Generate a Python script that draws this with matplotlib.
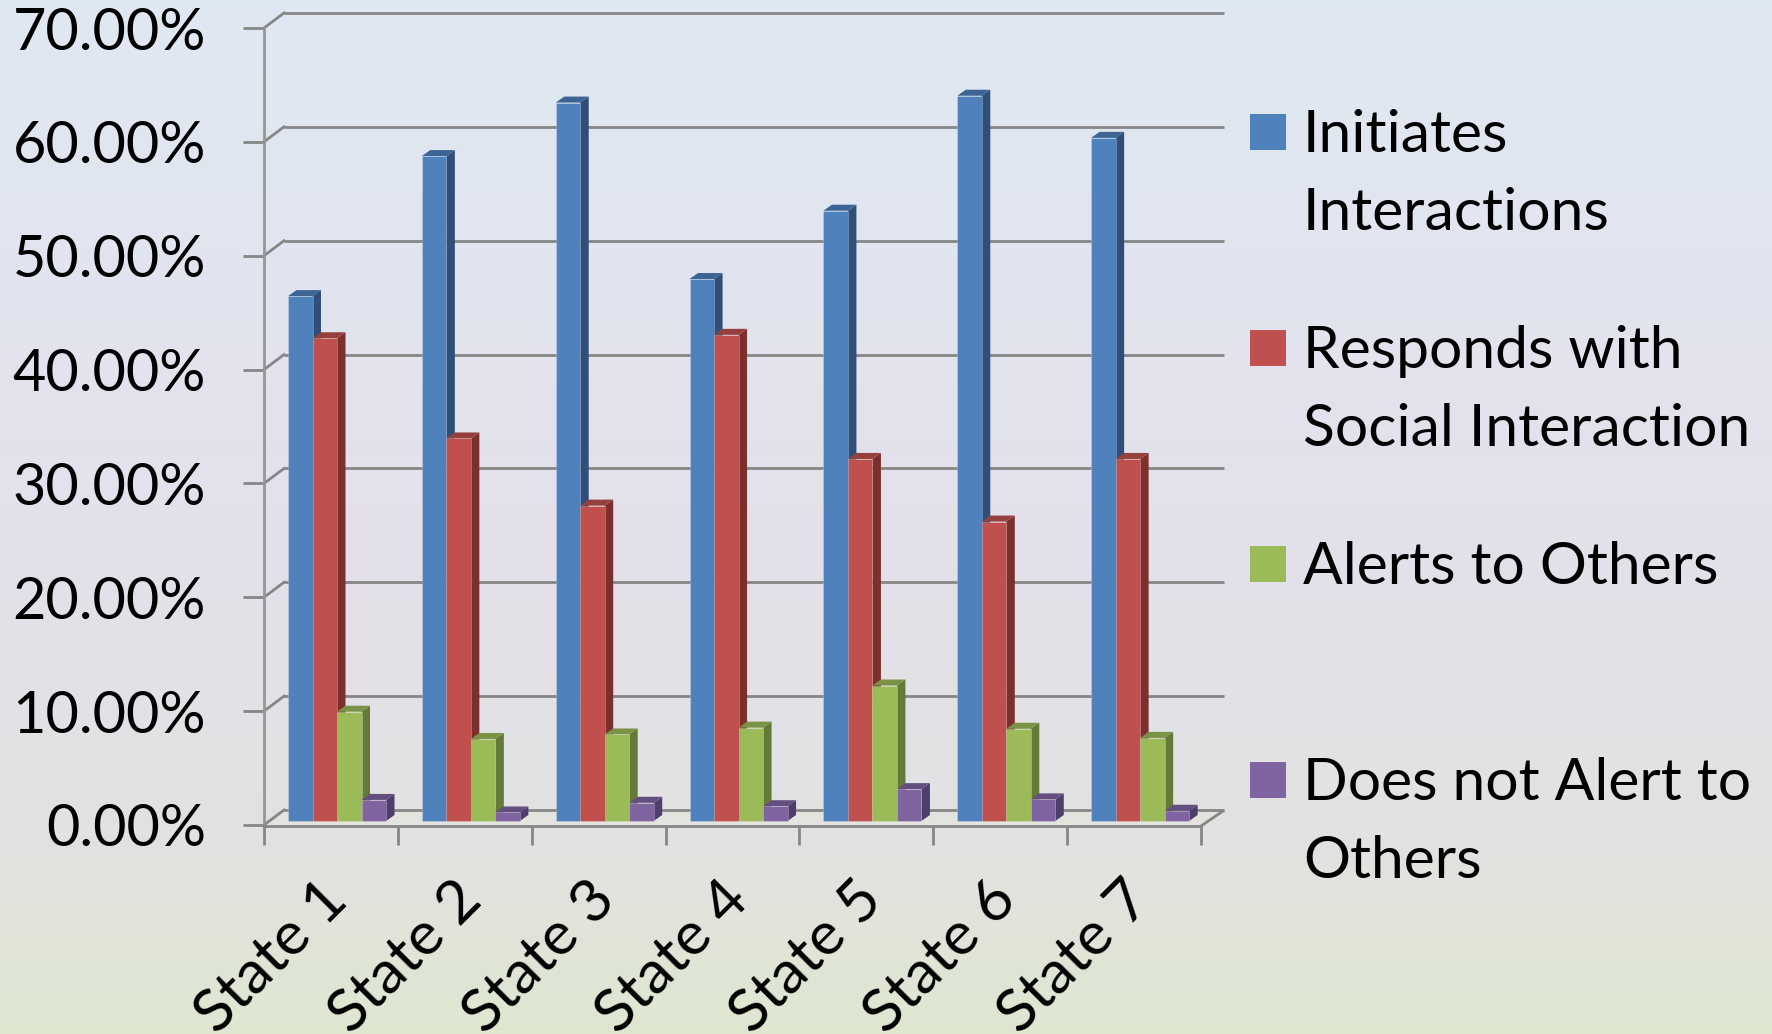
import numpy as np
import matplotlib
matplotlib.use('Agg')
import matplotlib.pyplot as plt
from matplotlib.colors import LinearSegmentedColormap
from matplotlib.transforms import offset_copy

states = ['State 1', 'State 2', 'State 3', 'State 4', 'State 5', 'State 6', 'State 7']
initiates = [46.1, 58.4, 63.1, 47.6, 53.6, 63.7, 60.0]
responds = [42.4, 33.6, 27.7, 42.7, 31.8, 26.3, 31.8]
alerts = [9.6, 7.2, 7.6, 8.2, 11.9, 8.1, 7.3]
no_alert = [1.85, 0.75, 1.6, 1.3, 2.8, 1.9, 0.9]
y_ticks = [0, 10, 20, 30, 40, 50, 60, 70]

series = [initiates, responds, alerts, no_alert]
# front, top and side colours for each series
front = ['#4f81bd', '#c0504d', '#9bbb59', '#8064a2']
top = ['#3c6494', '#96403d', '#7a9346', '#644e80']
side = ['#2f4f78', '#7c302e', '#647a38', '#4f3d6c']
legend_rows = [('Initiates\nInteractions', 132), ('Responds with\nSocial Interaction', 348),
               ('Alerts to Others', 564), ('Does not Alert to\nOthers', 780)]

W, H = 1772, 1034
x_px = 937 / 7      # pixels per state
y_px = 797 / 70     # pixels per percent
x0, y0 = 264, 825   # where the axes origin sits

plt.rcParams['font.family'] = ['Lato', 'DejaVu Sans']
fig = plt.figure(figsize=(W / 100, H / 100), dpi=100)

# background gradient
bg = fig.add_axes([0, 0, 1, 1], zorder=0)
cmap = LinearSegmentedColormap.from_list('bg', [(0, '#dfe9f3'), (0.55, '#e4e0ea'), (0.8, '#e2e2e2'), (1, '#dfe7d0')])
bg.imshow(np.linspace(0, 1, 256).reshape(-1, 1), cmap=cmap, aspect='auto', vmin=0, vmax=1)
bg.axis('off')

ax = fig.add_axes([0, 0, 1, 1], zorder=1)
ax.patch.set_alpha(0)
ax.set_xlim(-x0 / x_px, (W - x0) / x_px)
ax.set_ylim(-(H - y0) / y_px, y0 / y_px)
ax.axis('off')

grid_c = '#868686'
lw = 2.0
back = offset_copy(ax.transData, fig, x=20, y=15, units='dots')
mid = offset_copy(ax.transData, fig, x=0, y=4, units='dots')

# floor
ax.fill([0, 7, 7 + 22 / x_px, 22 / x_px], [0, 0, 15 / y_px, 15 / y_px], color='#e4e4de', zorder=1)

# back wall gridlines, side wall stubs and value ticks
for v in y_ticks:
    ax.plot([0, 7.02], [v, v], color=grid_c, lw=lw, transform=back, zorder=2, solid_capstyle='butt')
    ax.plot([0, 20 / x_px], [v, v + 15 / y_px], color=grid_c, lw=lw, zorder=2)
    ax.plot([-21 / x_px, 0], [v, v], color=grid_c, lw=lw, zorder=2, solid_capstyle='butt')
    ax.text(-58 / x_px, v, f'{v:.2f}%', ha='right', va='center_baseline', fontsize=41.5, color='black')

ax.plot([0, 0], [0, 70], color='#969696', lw=lw, zorder=2)
ax.plot([0, 7], [-1 / y_px, -1 / y_px], color=grid_c, lw=lw, zorder=2)
ax.plot([7, 7 + 22 / x_px], [-1 / y_px, 14 / y_px], color=grid_c, lw=lw, zorder=2)
for i in range(8):
    ax.plot([i, i], [-1 / y_px, -20 / y_px], color=grid_c, lw=lw, zorder=2, solid_capstyle='butt')

# 3d bars: box front plus top and side faces
bw = 24.5 / x_px
dx, dy = 8.5 / x_px, 6 / y_px
base_dy = 4 / y_px
for s, vals in enumerate(series):
    xs = np.arange(7) + 24 / x_px + s * bw
    for x, v in zip(xs, vals):
        b = v + base_dy
        ax.fill([x + bw, x + bw + dx, x + bw + dx, x + bw],
                [base_dy, base_dy + dy, b + dy, b], color=side[s], lw=0, zorder=3 + s)
        ax.fill([x, x + dx, x + bw + dx, x + bw], [b, b + dy, b + dy, b], color=top[s], lw=0, zorder=3 + s)
    ax.bar(xs, vals, width=bw, align='edge', color=front[s], transform=mid, zorder=3 + s,
           edgecolor='#ffffff40', linewidth=0.6)

# state labels, rotated and running off the bottom edge
for i, name in enumerate(states):
    ax.text(i + 0.41, -47 / y_px, name, rotation=45, rotation_mode='anchor', ha='right', va='top',
            fontsize=43.5, color='black')

# legend
for (label, ypx), c in zip(legend_rows, front):
    ly = (y0 - ypx) / y_px
    ax.fill(np.array([1250, 1286, 1286, 1250]) / x_px - x0 / x_px,
            ly + np.array([-18, -18, 18, 18]) / y_px, color=c, lw=0, zorder=3)
    ax.text((1303 - x0) / x_px, ly + 23 / y_px, label, ha='left', va='top', fontsize=42.3,
            linespacing=1.59, color='black')

fig.savefig('out.png', dpi=100)
